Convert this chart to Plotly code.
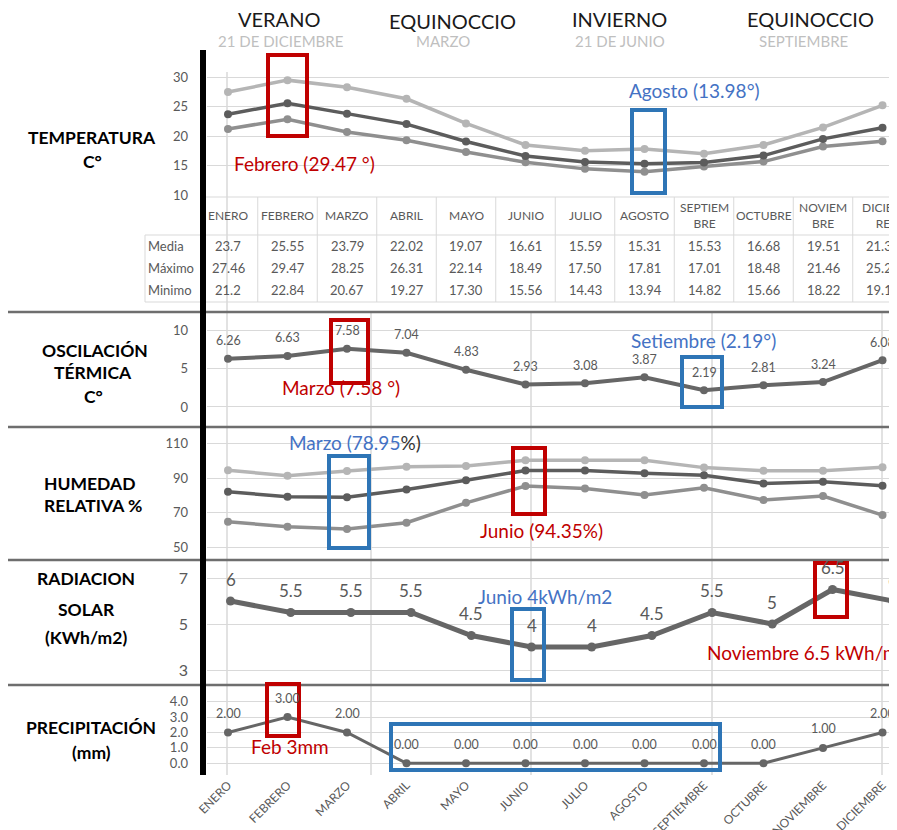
import plotly.graph_objects as go

# ---------------- data ----------------
months = ["ENERO", "FEBRERO", "MARZO", "ABRIL", "MAYO", "JUNIO", "JULIO",
          "AGOSTO", "SEPTIEMBRE", "OCTUBRE", "NOVIEMBRE", "DICIEMBRE"]
table_headers = ["ENERO", "FEBRERO", "MARZO", "ABRIL", "MAYO", "JUNIO", "JULIO",
                 "AGOSTO", "SEPTIEM<br>BRE", "OCTUBRE", "NOVIEM<br>BRE", "DICIEM<br>RE"]

temp_media = [23.7, 25.55, 23.79, 22.02, 19.07, 16.61, 15.59, 15.31, 15.53, 16.68, 19.51, 21.39]
temp_max = [27.46, 29.47, 28.25, 26.31, 22.14, 18.49, 17.50, 17.81, 17.01, 18.48, 21.46, 25.20]
temp_min = [21.2, 22.84, 20.67, 19.27, 17.30, 15.56, 14.43, 13.94, 14.82, 15.66, 18.22, 19.12]
temp_media_txt = ["23.7", "25.55", "23.79", "22.02", "19.07", "16.61", "15.59", "15.31", "15.53", "16.68", "19.51", "21.39"]
temp_max_txt = ["27.46", "29.47", "28.25", "26.31", "22.14", "18.49", "17.50", "17.81", "17.01", "18.48", "21.46", "25.20"]
temp_min_txt = ["21.2", "22.84", "20.67", "19.27", "17.30", "15.56", "14.43", "13.94", "14.82", "15.66", "18.22", "19.12"]

oscilacion = [6.26, 6.63, 7.58, 7.04, 4.83, 2.93, 3.08, 3.87, 2.19, 2.81, 3.24, 6.08]

hum_max = [94.5, 91.3, 94.0, 96.5, 97.0, 100.2, 100.2, 100.2, 96.0, 94.2, 94.2, 96.2]
hum_media = [82.1, 79.2, 78.95, 83.4, 88.7, 94.35, 94.4, 92.7, 91.6, 86.9, 87.9, 85.6]
hum_min = [64.8, 61.9, 60.6, 64.2, 75.7, 85.4, 84.0, 80.2, 84.4, 77.3, 79.6, 68.6]

radiacion = [6, 5.5, 5.5, 5.5, 4.5, 4, 4, 4.5, 5.5, 5, 6.5, 6]
precipitacion = [2, 3, 2, 0, 0, 0, 0, 0, 0, 0, 1, 2]

# ---------------- helpers ----------------
W, H = 897, 830
OFF = 8  # page body margin of the html page
FONT = "Lato, 'Open Sans', sans-serif"
GRAY_TXT = "#595959"
RED = "#c00000"
BLUE = "#2e75b6"
BLUE_TXT = "#4472c4"
GRID = "#d9d9d9"


def px(x):
    return (x - OFF) / W


def py(y):
    return 1 - (y - OFF) / H


idx = list(range(12))
fig = go.Figure()

C_MAX, C_MED, C_MIN = "#b5b5b5", "#5c5c5c", "#8f8f8f"


def add_line(xa, ya, vals, color, width, msize, name):
    fig.add_trace(go.Scatter(
        x=idx, y=vals, mode="lines+markers", name=name,
        line=dict(color=color, width=width), marker=dict(color=color, size=msize),
        xaxis=xa, yaxis=ya, showlegend=False, hoverinfo="skip", cliponaxis=False))


add_line("x", "y", temp_max, C_MAX, 3.5, 8, "Máximo")
add_line("x", "y", temp_min, C_MIN, 3.5, 8, "Minimo")
add_line("x", "y", temp_media, C_MED, 3.5, 8, "Media")
add_line("x2", "y2", oscilacion, "#666666", 4, 8, "Oscilación")
add_line("x3", "y3", hum_max, C_MAX, 3.5, 8, "Máx")
add_line("x3", "y3", hum_min, C_MIN, 3.5, 8, "Mín")
add_line("x3", "y3", hum_media, C_MED, 3.5, 8, "Media")
add_line("x4", "y4", radiacion, "#666666", 5, 9, "Radiación")
add_line("x5", "y5", precipitacion, "#666666", 3, 8, "Precipitación")

annotations = []
shapes = []


def txt(x, y, text, size, color="#000000", bold=False, xanchor="center", xref="paper", yref="paper", yshift=0):
    t = f"<b>{text}</b>" if bold else text
    annotations.append(dict(x=x, y=y, xref=xref, yref=yref, text=t, showarrow=False,
                            font=dict(family=FONT, size=size, color=color),
                            xanchor=xanchor, yanchor="middle", yshift=yshift))


# data labels
for i, v in enumerate(oscilacion):
    txt(i, v, f"{v:.2f}", 12.5, GRAY_TXT, xref="x2", yref="y2", yshift=18)
for i, v in enumerate(radiacion):
    txt(i, v, f"{v:g}", 17, GRAY_TXT, xref="x4", yref="y4", yshift=22)
for i, v in enumerate(precipitacion):
    txt(i, v, f"{v:.2f}", 12.5, GRAY_TXT, xref="x5", yref="y5", yshift=19)

# header
txt(px(279), py(19), "VERANO", 20, "#1a1a1a")
txt(px(280), py(41), "21 DE DICIEMBRE", 15, "#bfbfbf")
txt(px(452), py(21), "EQUINOCCIO", 20, "#1a1a1a")
txt(px(443), py(41), "MARZO", 15, "#bfbfbf")
txt(px(619), py(19), "INVIERNO", 20, "#1a1a1a")
txt(px(620), py(41), "21 DE JUNIO", 15, "#bfbfbf")
txt(px(810), py(19), "EQUINOCCIO", 20, "#1a1a1a")
txt(px(803), py(41), "SEPTIEMBRE", 15, "#bfbfbf")

# left titles
TS = 17.5
txt(px(92), py(138), "TEMPERATURA", TS, bold=True)
txt(px(92), py(162), "C°", TS, bold=True)
txt(px(95), py(350), "OSCILACIÓN", TS, bold=True)
txt(px(93), py(373), "TÉRMICA", TS, bold=True)
txt(px(93), py(397), "C°", TS, bold=True)
txt(px(42), py(483), "HUMEDAD", TS, bold=True, xanchor="left")
txt(px(42), py(505), "RELATIVA %", TS, bold=True, xanchor="left")
txt(px(86), py(578), "RADIACION", TS, bold=True)
txt(px(86), py(609), "SOLAR", TS, bold=True)
txt(px(86), py(637), "(KWh/m2)", TS, bold=True)
txt(px(91), py(727), "PRECIPITACIÓN", TS, bold=True)
txt(px(91), py(752), "(mm)", TS, bold=True)

# table
for i, h in enumerate(table_headers):
    txt(i, py(216), h, 12, GRAY_TXT, xref="x")
for row_y, label, vals in [(246, "Media", temp_media_txt), (268, "Máximo", temp_max_txt), (290, "Minimo", temp_min_txt)]:
    txt(px(146), py(row_y), label, 13, GRAY_TXT, xanchor="left")
    for i, v in enumerate(vals):
        txt(i, py(row_y), v, 13, GRAY_TXT, xref="x")


def hline(x0, x1, y, color, width):
    shapes.append(dict(type="line", xref="paper", yref="paper", x0=px(x0), x1=px(x1),
                       y0=py(y), y1=py(y), line=dict(color=color, width=width)))


def vline(x, y0, y1, color, width, xref="paper"):
    xx = px(x) if xref == "paper" else x
    shapes.append(dict(type="line", xref=xref, yref="paper", x0=xx, x1=xx,
                       y0=py(y0), y1=py(y1), line=dict(color=color, width=width), layer="below"))


hline(205, 905, 197, GRID, 1)
hline(145, 905, 235, GRID, 1)
hline(145, 905, 302, GRID, 1)
vline(145, 235, 302, GRID, 1)
for i in range(1, 13):
    vline(i - 0.5, 197, 302, GRID, 1, xref="x")

# season guide lines
vline(227, 72, 775, GRID, 1.5)
for xx in (371, 531, 712, 882):
    vline(xx, 312, 775, GRID, 1.5)

# panel separators
for yy in (312, 427, 560, 685):
    hline(0, 905, yy, "#6e6e6e", 2.5)

# black vertical bar
shapes.append(dict(type="line", xref="paper", yref="paper", x0=px(203), x1=px(203),
                   y0=py(50), y1=py(775), line=dict(color="#000000", width=6)))


def box(x0, y0, x1, y1, color):
    shapes.append(dict(type="rect", xref="paper", yref="paper", x0=px(x0), x1=px(x1),
                       y0=py(y1), y1=py(y0), line=dict(color=color, width=4)))


AS = 19
box(268, 55, 307, 136, RED)
txt(px(304), py(163), "Febrero (29.47 °)", AS, RED)
box(632, 110, 665, 193, BLUE)
txt(px(694), py(91), "Agosto (13.98°)", AS, BLUE_TXT)

box(331, 320, 368, 383, RED)
txt(px(341), py(388), "Marzo (7.58 °)", AS, RED)
box(682, 357, 722, 407, BLUE)
txt(px(703), py(340), "Setiembre (2.19°)", AS, BLUE_TXT)

box(329, 456, 369, 548, BLUE)
txt(px(355), py(442), "Marzo (78.95<span style='color:#333333'>%)</span>", AS, BLUE_TXT)
box(513, 448, 545, 514, RED)
txt(px(541), py(530), "Junio (94.35%)", AS, RED)

box(512, 609, 544, 680, BLUE)
txt(px(545), py(596), "Junio 4kWh/m2", AS, BLUE_TXT)
box(815, 563, 847, 617, RED)
txt(px(705), py(652), "Noviembre 6.5 kWh/m2", AS, RED, xanchor="left")

box(267, 684, 299, 736, RED)
txt(px(290), py(746), "Feb 3mm", AS, RED)
box(391, 724, 720, 770, BLUE)

# ---------------- axes ----------------
XL, XR = 207, 897
xdom = [px(XL), px(XR)]
x_std = [(XL - 228) / 59.5, (XR - 228) / 59.5]
x_rad = [(XL - 230.5) / 60.2, (XR - 230.5) / 60.2]

common_y = dict(gridcolor=GRID, gridwidth=1, zeroline=False, showline=False, ticks="", automargin=False,
                tickfont=dict(family=FONT, size=13, color=GRAY_TXT), ticklabelstandoff=18)
common_x = dict(domain=xdom, showgrid=False, zeroline=False, showline=False, ticks="", automargin=False,
                showticklabels=False, tickvals=idx)

layout_axes = dict(
    xaxis=dict(common_x, range=x_std, anchor="y"),
    yaxis=dict(common_y, domain=[py(195), py(72)], range=[10, 30.85], tickvals=[10, 15, 20, 25, 30], anchor="x"),
    xaxis2=dict(common_x, range=x_std, anchor="y2"),
    yaxis2=dict(common_y, domain=[py(420), py(322)], range=[-1.69, 11.04], tickvals=[0, 5, 10], anchor="x2"),
    xaxis3=dict(common_x, range=x_std, anchor="y3"),
    yaxis3=dict(common_y, domain=[py(555), py(430)], range=[45.6, 117.7], tickvals=[50, 70, 90, 110], anchor="x3"),
    xaxis4=dict(common_x, range=x_rad, anchor="y4"),
    yaxis4=dict(common_y, domain=[py(683), py(563)], range=[2.435, 7.652], tickvals=[3, 5, 7], anchor="x4",
                tickfont=dict(family=FONT, size=16, color=GRAY_TXT)),
    xaxis5=dict(common_x, range=x_std, anchor="y5", showticklabels=True, ticktext=months, tickangle=-45,
                tickfont=dict(family=FONT, size=12, color=GRAY_TXT)),
    yaxis5=dict(common_y, domain=[py(775), py(690)], range=[-0.76, 4.76], tickvals=[0, 1, 2, 3, 4],
                tickformat=".1f", anchor="x5"),
)

fig.update_layout(
    width=W, height=H, margin=dict(l=0, r=0, t=0, b=0, pad=0, autoexpand=False),
    paper_bgcolor="white", plot_bgcolor="white",
    font=dict(family=FONT),
    annotations=annotations, shapes=shapes, showlegend=False,
    **layout_axes,
)

fig.write_html("out.html")
